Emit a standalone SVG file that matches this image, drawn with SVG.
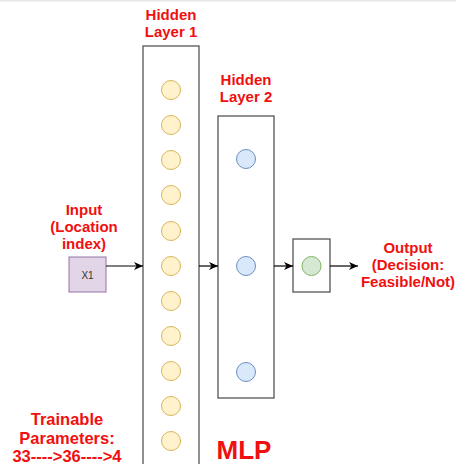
<svg xmlns="http://www.w3.org/2000/svg" width="456" height="464" viewBox="0 0 456 464">
<defs>
<marker id="ah" markerWidth="10" markerHeight="8" refX="9" refY="4" orient="auto" markerUnits="userSpaceOnUse">
<path d="M0,0 L9,4 L0,8 L2.5,4 Z" fill="#000"/>
</marker>
</defs>
<style>
.lbl{font-family:"Liberation Sans",Arial,sans-serif;font-weight:bold;font-size:15px;fill:#f01010;text-anchor:middle}
.box{fill:#fff;stroke:#555;stroke-width:1.3}
.y{fill:#fff2cc;stroke:#d6b656;stroke-width:1}
.b{fill:#dae8fc;stroke:#6c8ebf;stroke-width:1}
.g{fill:#d5e8d4;stroke:#82b366;stroke-width:1}
.c{stroke:#000;stroke-width:1.2;fill:none;marker-end:url(#ah)}
</style>
<rect x="0" y="0" width="456" height="464" fill="#fff"/>
<rect x="0" y="0" width="456" height="1.5" fill="#e6e6e6"/>
<g id="input">
<rect x="69" y="257" width="37" height="35" fill="#e1d5e7" stroke="#9673a6" stroke-width="1"/>
<text x="87.5" y="279" font-family="Liberation Sans,Arial,sans-serif" font-size="10" fill="#333" text-anchor="middle">X1</text>
<text class="lbl" x="84" y="215">Input</text>
<text class="lbl" x="84" y="232">(Location</text>
<text class="lbl" x="84" y="249">index)</text>
</g>
<g id="hidden1">
<rect class="box" x="143" y="46" width="56" height="430"/>
<circle class="y" cx="171" cy="90" r="9.5"/>
<circle class="y" cx="171" cy="125" r="9.5"/>
<circle class="y" cx="171" cy="160" r="9.5"/>
<circle class="y" cx="171" cy="195" r="9.5"/>
<circle class="y" cx="171" cy="231" r="9.5"/>
<circle class="y" cx="171" cy="266" r="9.5"/>
<circle class="y" cx="171" cy="301" r="9.5"/>
<circle class="y" cx="171" cy="336" r="9.5"/>
<circle class="y" cx="171" cy="371" r="9.5"/>
<circle class="y" cx="171" cy="406" r="9.5"/>
<circle class="y" cx="171" cy="441" r="9.5"/>
<text class="lbl" x="171" y="20">Hidden</text>
<text class="lbl" x="171" y="37">Layer 1</text>
</g>
<g id="hidden2">
<rect class="box" x="218" y="116" width="56" height="282"/>
<circle class="b" cx="246" cy="159" r="9.5"/>
<circle class="b" cx="246" cy="266" r="9.5"/>
<circle class="b" cx="246" cy="372" r="9.5"/>
<text class="lbl" x="246" y="85">Hidden</text>
<text class="lbl" x="246" y="102">Layer 2</text>
</g>
<g id="output">
<rect class="box" x="293" y="239" width="37" height="53"/>
<circle class="g" cx="311.5" cy="266" r="9.5"/>
<text class="lbl" x="408" y="253">Output</text>
<text class="lbl" x="408" y="270">(Decision:</text>
<text class="lbl" x="408" y="287">Feasible/Not)</text>
</g>
<g id="notes">
<text class="lbl" x="67" y="425" style="font-size:16.5px">Trainable</text>
<text class="lbl" x="67" y="443.5" style="font-size:16.5px">Parameters:</text>
<text class="lbl" x="67" y="462" style="font-size:16.5px">33----&gt;36----&gt;4</text>
<text class="lbl" x="244" y="459" style="font-size:26px">MLP</text>
</g>
<g id="connectors">
<line class="c" x1="106" y1="266" x2="143" y2="266"/>
<line class="c" x1="199" y1="266" x2="218" y2="266"/>
<line class="c" x1="274" y1="266" x2="293" y2="266"/>
<line class="c" x1="330" y1="266" x2="358" y2="266"/>
</g>
</svg>
